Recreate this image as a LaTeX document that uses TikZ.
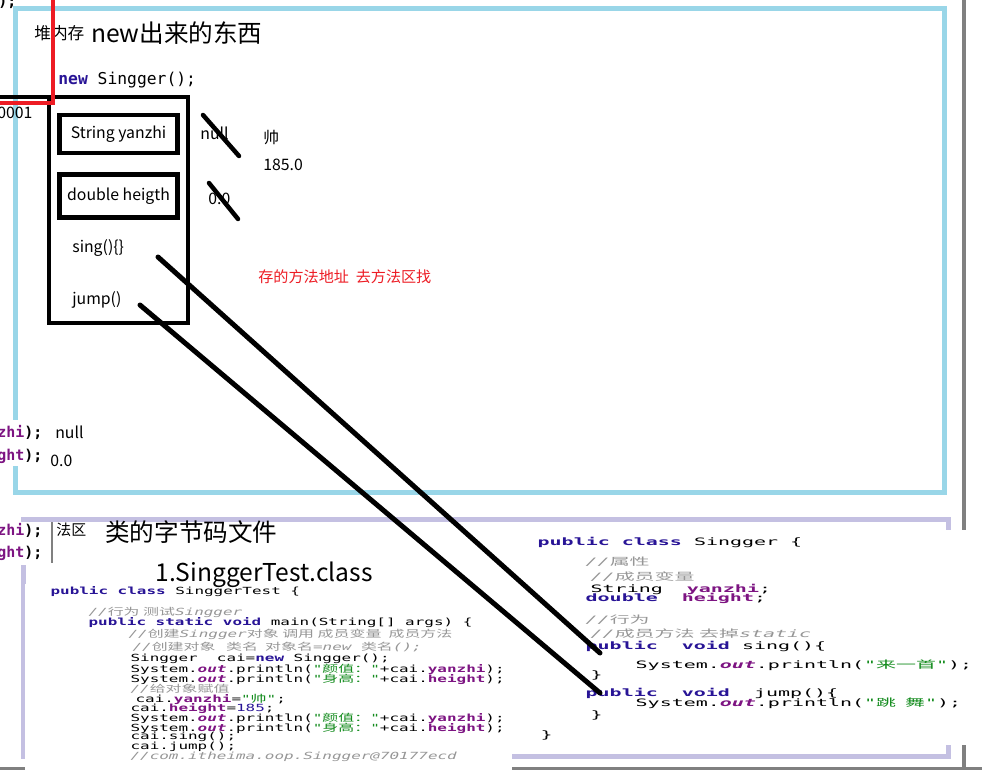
\documentclass[tikz,border=0pt]{standalone}
\usepackage{fontspec}
\setmainfont{Noto Sans CJK SC}
\setmonofont{DejaVu Sans Mono}
\newfontfamily\cjk{Noto Sans CJK SC}
\usetikzlibrary{positioning}

\definecolor{heapblue}{RGB}{153,214,232}
\definecolor{methlav}{RGB}{196,192,226}
\definecolor{bargray}{RGB}{128,128,128}
\definecolor{markred}{RGB}{237,28,36}
\definecolor{kwblue}{RGB}{40,20,150}
\definecolor{fldpurple}{RGB}{125,20,130}
\definecolor{strgreen}{RGB}{20,140,30}
\definecolor{cmtgray}{RGB}{150,150,150}

\newcommand{\zh}[1]{{\cjk #1}}
\newcommand{\kw}[1]{\textcolor{kwblue}{\bfseries #1}}
\newcommand{\fld}[1]{\textcolor{fldpurple}{\bfseries #1}}
\newcommand{\outf}[1]{\textcolor{fldpurple}{\bfseries\itshape #1}}
\newcommand{\jstr}[1]{\textcolor{strgreen}{#1}}
\newcommand{\jcmt}[1]{\textcolor{cmtgray}{\itshape #1}}

\begin{document}
\begin{tikzpicture}[x=0.02cm, y=-0.02cm,
    lbl/.style={anchor=west, inner sep=0pt, font=\fontsize{9}{11}\selectfont},
    big/.style={anchor=west, inner sep=0pt, font=\fontsize{14}{17}\selectfont},
    small/.style={anchor=west, inner sep=0pt, font=\fontsize{9.5}{11}\selectfont},
    note/.style={anchor=west, inner sep=0pt, text=markred, font=\fontsize{8.6}{10}\selectfont},
    stub/.style={anchor=west, inner sep=0pt, font=\ttfamily\bfseries\fontsize{8.5}{10}\selectfont},
    lcode/.style={anchor=west, inner sep=0pt, font=\ttfamily\fontsize{5.6}{6}\selectfont, xscale=1.62, transform shape},
    rcode/.style={anchor=west, inner sep=0pt, font=\ttfamily\fontsize{5.8}{6}\selectfont, xscale=1.96, transform shape},
    objbox/.style={draw, line width=2.8pt, outer sep=0pt, inner sep=0pt, font=\fontsize{9}{11}\selectfont},
    heapframe/.style={draw=heapblue, line width=0.1cm},
    methframe/.style={draw=methlav, line width=0.1cm},
    ptr/.style={line width=0.1cm, line cap=round},
    strike/.style={line width=0.09cm, line cap=round},
    redmark/.style={draw=markred, line width=0.08cm}
  ]
  \useasboundingbox (0,0) rectangle (982,771);
  \clip (0,0) rectangle (982,771);
  \fill[white] (0,0) rectangle (982,771);

  % heap and method area frames
  \draw[heapframe] (15.5,8) rectangle (944.5,492);
  \draw[methframe] (23.5,519.5) rectangle (948,756);
  \draw[bargray, line width=0.08cm] (964,0) -- (964,768);
  \draw[bargray, line width=0.06cm] (0,768.5) -- (982,768.5);

  % pasted class files
  \fill[white] (25,584) rectangle (512,771);
  \fill[white] (530,530) rectangle (982,745);
  \fill[white] (-1,420) rectangle (46,466);
  \fill[white] (-1,522) rectangle (50,565);

  % heap
  \node[stub] (prev) at (-2,2) {);};
  \node[small] (heapsm) at (34,33) {堆内存};
  \node[big, right=0.12cm of heapsm] (heaptitle) {new出来的东西};
  \node[anchor=west, inner sep=0pt, font=\ttfamily\fontsize{9.3}{11}\selectfont] (newexpr) at (58,80) {\kw{new} Singger();};
  \node[lbl] (addr) at (-3,113) {0001};

  \node[objbox, anchor=north west, minimum width=2.78cm, minimum height=4.52cm] (obj) at (49,97) {};
  \node[objbox, minimum width=2.36cm, minimum height=0.76cm] (fyan) at (118.5,134) {String yanzhi};
  \node[objbox, minimum width=2.36cm, minimum height=0.86cm] (fhei) at (118.5,196) {double heigth};
  \node[lbl] (msing) at (72,248) {sing()\{\}};
  \node[lbl] (mjump) at (72,300) {jump()};

  \node[lbl] (vnull) at (200,133) {null};
  \node[lbl] (vzero) at (208,199) {0.0};
  \node[lbl] (shuai) at (263,138) {帅};
  \node[lbl, below=0.26cm of shuai.south west, anchor=north west] (v185) {185.0};
  \node[note] (hint) at (258,277) {存的方法地址\ \ 去方法区找};

  % old values crossed out
  \coordinate (sn1) at ([xshift=0.06cm, yshift=0.36cm]vnull.west);
  \coordinate (sn2) at ([xshift=0.78cm, yshift=-0.46cm]vnull.west);
  \coordinate (sz1) at ([xshift=0.02cm, yshift=0.32cm]vzero.west);
  \coordinate (sz2) at ([xshift=0.6cm, yshift=-0.4cm]vzero.west);
  \draw[strike] (sn1) -- (sn2);
  \draw[strike] (sz1) -- (sz2);

  % cut-off console lines
  \node[stub] (s1) at (-3,432) {\fld{zhi});};
  \node[lbl] (s1v) at (55,432) {null};
  \node[stub] (s2) at (-3,456) {\fld{ght});};
  \node[lbl] (s2v) at (50,461) {0.0};
  \node[stub] (s3) at (-3,530) {\fld{zhi});};
  \node[stub] (s4) at (-3,553) {\fld{ght});};
  \draw[bargray, line width=0.05cm] (52,522) -- (52,563);

  % method area
  \node[lbl, font=\fontsize{8.5}{10}\selectfont] (methsm) at (56,530) {法区};
  \node[big] (methtitle) at (105,532) {类的字节码文件};
  \node[big] (clsname) at (155,575) {1.SinggerTest.class};

  \node[lcode] (l1) at (50,592) {\kw{public class} SinggerTest \{};
  \node[lcode] (l2) at (88,612) {\jcmt{//\zh{行为 测试}Singger}};
  \node[lcode] (l3) at (88,623) {\kw{public static void} main(String[] args) \{};
  \node[lcode] (l4) at (128,634) {\jcmt{//\zh{创建}Singger\zh{对象 调用 成员变量\ \ 成员方法}}};
  \node[lcode] (l5) at (132,647) {\jcmt{//\zh{创建对象\ \ \ 类名\ \ 对象名}=new \zh{类名}();}};
  \node[lcode] (l6) at (130,659) {Singger\ \ cai=\kw{new} Singger();};
  \node[lcode] (l7) at (130,669) {System.\outf{out}.println(\jstr{"\zh{颜值：}"}+cai.\fld{yanzhi});};
  \node[lcode] (l8) at (130,679) {System.\outf{out}.println(\jstr{"\zh{身高：}"}+cai.\fld{height});};
  \node[lcode] (l9) at (130,689) {\jcmt{//\zh{给对象赋值}}};
  \node[lcode] (l10) at (135,699) {cai.\fld{yanzhi}=\jstr{"\zh{帅}"};};
  \node[lcode] (l11) at (130,709) {cai.\fld{height}=\textcolor{kwblue}{185};};
  \node[lcode] (l12) at (130,718) {System.\outf{out}.println(\jstr{"\zh{颜值：}"}+cai.\fld{yanzhi});};
  \node[lcode] (l13) at (130,728) {System.\outf{out}.println(\jstr{"\zh{身高：}"}+cai.\fld{height});};
  \node[lcode] (l14) at (130,737) {cai.sing();};
  \node[lcode] (l15) at (130,747) {cai.jump();};
  \node[lcode] (l16) at (130,757) {\jcmt{//com.itheima.oop.Singger@70177ecd}};

  \node[rcode] (r1) at (537,542) {\kw{public class} Singger \{};
  \node[rcode] (r2) at (585,562) {\jcmt{//\zh{属性}}};
  \node[rcode] (r3) at (590,577) {\jcmt{//\zh{成员变量}}};
  \node[rcode] (r4) at (590,589) {String\ \ \fld{yanzhi};};
  \node[rcode] (r5) at (585,598) {\kw{double}\ \ \fld{height};};
  \node[rcode] (r6) at (585,620) {\jcmt{//\zh{行为}}};
  \node[rcode] (r7) at (590,634) {\jcmt{//\zh{成员方法 去掉}static}};
  \node[rcode] (r8) at (585,646) {\kw{public}\ \ \kw{void} sing()\{};
  \node[rcode] (r9) at (635,665) {System.\outf{out}.println(\jstr{"\zh{来一首}"});};
  \node[rcode] (r10) at (590,675) {\}};
  \node[rcode] (r11) at (585,693) {\kw{public}\ \ \kw{void}\ \ jump()\{};
  \node[rcode] (r12) at (635,703) {System.\outf{out}.println(\jstr{"\zh{跳\ \ 舞}"});};
  \node[rcode] (r13) at (590,715) {\}};
  \node[rcode] (r14) at (540,735) {\}};

  % method addresses pointing into the class file
  \coordinate (singref) at ([xshift=1.72cm, yshift=-0.18cm]msing.west);
  \coordinate (jumpref) at ([xshift=1.36cm, yshift=-0.1cm]mjump.west);
  \coordinate (singdef) at ([xshift=0.3cm, yshift=-0.14cm]r8.west);
  \coordinate (jumpdef) at ([xshift=0.3cm]r11.west);
  \draw[ptr] (singref) -- (singdef);
  \draw[ptr] (jumpref) -- (jumpdef);

  % stack reference (cut off)
  \draw[line width=2.8pt] (-2,97) -- (47,97);
  \draw[redmark] (52.5,-2) -- (52.5,103) -- (-2,103);
\end{tikzpicture}
\end{document}
